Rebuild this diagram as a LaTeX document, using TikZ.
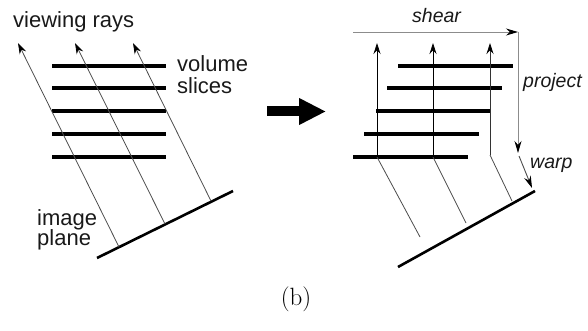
\documentclass[tikz,border=0pt]{standalone}
\usepackage{fontspec}
\setmainfont{Latin Modern Roman}
\newfontfamily\arialfont{Liberation Sans}
\usetikzlibrary{arrows.meta}
\begin{document}
\begin{tikzpicture}[x=1pt,y=-1pt,
  slice/.style={line width=3.6pt,black},
  plane/.style={line width=2.6pt,black},
  ray/.style={line width=0.8pt,black!70},
  rayarrow/.style={ray,-{Stealth[length=11pt,width=7pt,black]}},
  guide/.style={line width=0.9pt,black!45,-{Stealth[length=12pt,width=7pt,black]}},
  lbl/.style={font=\arialfont\fontsize{22}{24}\selectfont,inner sep=0pt,text=black!90},
  ilbl/.style={font=\arialfont\itshape\fontsize{19.5}{21}\selectfont,inner sep=0pt,text=black!90}]
\useasboundingbox (0,0) rectangle (588,331);
% ---------- left panel ----------
\foreach \y [count=\i] in {66,88,111,134,157}
  \draw[slice] (52,\y) coordinate (ls\i a) -- (166,\y) coordinate (ls\i b);
\coordinate (lp1) at (97,258);
\coordinate (lp2) at (233,191);
\draw[plane] (lp1) -- (lp2);
\coordinate (lr1b) at (119,247); \coordinate (lr1t) at (18,43);
\coordinate (lr2b) at (165,224); \coordinate (lr2t) at (75,43);
\coordinate (lr3b) at (211,201); \coordinate (lr3t) at (133,43);
\draw[rayarrow] (lr1b) -- (lr1t);
\draw[rayarrow] (lr2b) -- (lr2t);
\draw[rayarrow] (lr3b) -- (lr3t);
\node[lbl,anchor=base west] (vr) at (13,28) {viewing rays};
\node[lbl,anchor=base west] (vol) at (177,72) {volume};
\node[lbl,anchor=base west] (sli) at (177,94) {slices};
\node[lbl,anchor=base west] (img) at (37,225) {image};
\node[lbl,anchor=base west] (pla) at (37,245) {plane};
% ---------- big arrow ----------
\coordinate (ba1) at (267,111.5);
\coordinate (ba2) at (326,111.5);
\draw[line width=10pt,-{Triangle[length=27pt,width=25pt]}] (ba1) -- (ba2);
% ---------- right panel ----------
\draw[slice] (398,66) coordinate (rs1a) -- (513,66) coordinate (rs1b);
\draw[slice] (387,88) coordinate (rs2a) -- (502,88) coordinate (rs2b);
\draw[slice] (376,111) coordinate (rs3a) -- (490,111) coordinate (rs3b);
\draw[slice] (364,134) coordinate (rs4a) -- (479,134) coordinate (rs4b);
\draw[slice] (353,157) coordinate (rs5a) -- (468,157) coordinate (rs5b);
\coordinate (rp1) at (398,267);
\coordinate (rp2) at (535,191);
\draw[plane] (rp1) -- (rp2);
\coordinate (rr1b) at (420,237); \coordinate (rr1k) at (377,157); \coordinate (rr1t) at (377,43);
\coordinate (rr2b) at (466,223); \coordinate (rr2k) at (433,157); \coordinate (rr2t) at (433,43);
\coordinate (rr3b) at (512,201); \coordinate (rr3k) at (490,155); \coordinate (rr3t) at (490,43);
\draw[ray] (rr1b) -- (rr1k);
\draw[ray] (rr2b) -- (rr2k);
\draw[ray] (rr3b) -- (rr3k);
\draw[rayarrow,black] (rr1k) -- (rr1t);
\draw[rayarrow,black] (rr2k) -- (rr2t);
\draw[rayarrow,black!80] (rr3k) -- (rr3t);
% shear / project / warp
\coordinate (sh1) at (353,32);
\coordinate (sh2) at (518,32);
\coordinate (pr2) at (518,153);
\coordinate (wa1) at (519,156);
\coordinate (wa2) at (532,188);
\draw[guide] (sh1) -- (sh2);
\draw[guide] (sh2) -- (pr2);
\draw[line width=0.9pt,black!70,-{Stealth[length=12pt,width=7pt,black]}] (wa1) -- (wa2);
\node[ilbl,anchor=base west] (she) at (412,23) {shear};
\node[ilbl,anchor=base west] (pro) at (523,88) {project};
\node[ilbl,anchor=base west] (war) at (530,168) {warp};
% caption
\node[font=\fontsize{25}{28}\selectfont,inner sep=0pt] (cap) at (296,299) {(b)};
\end{tikzpicture}
\end{document}
